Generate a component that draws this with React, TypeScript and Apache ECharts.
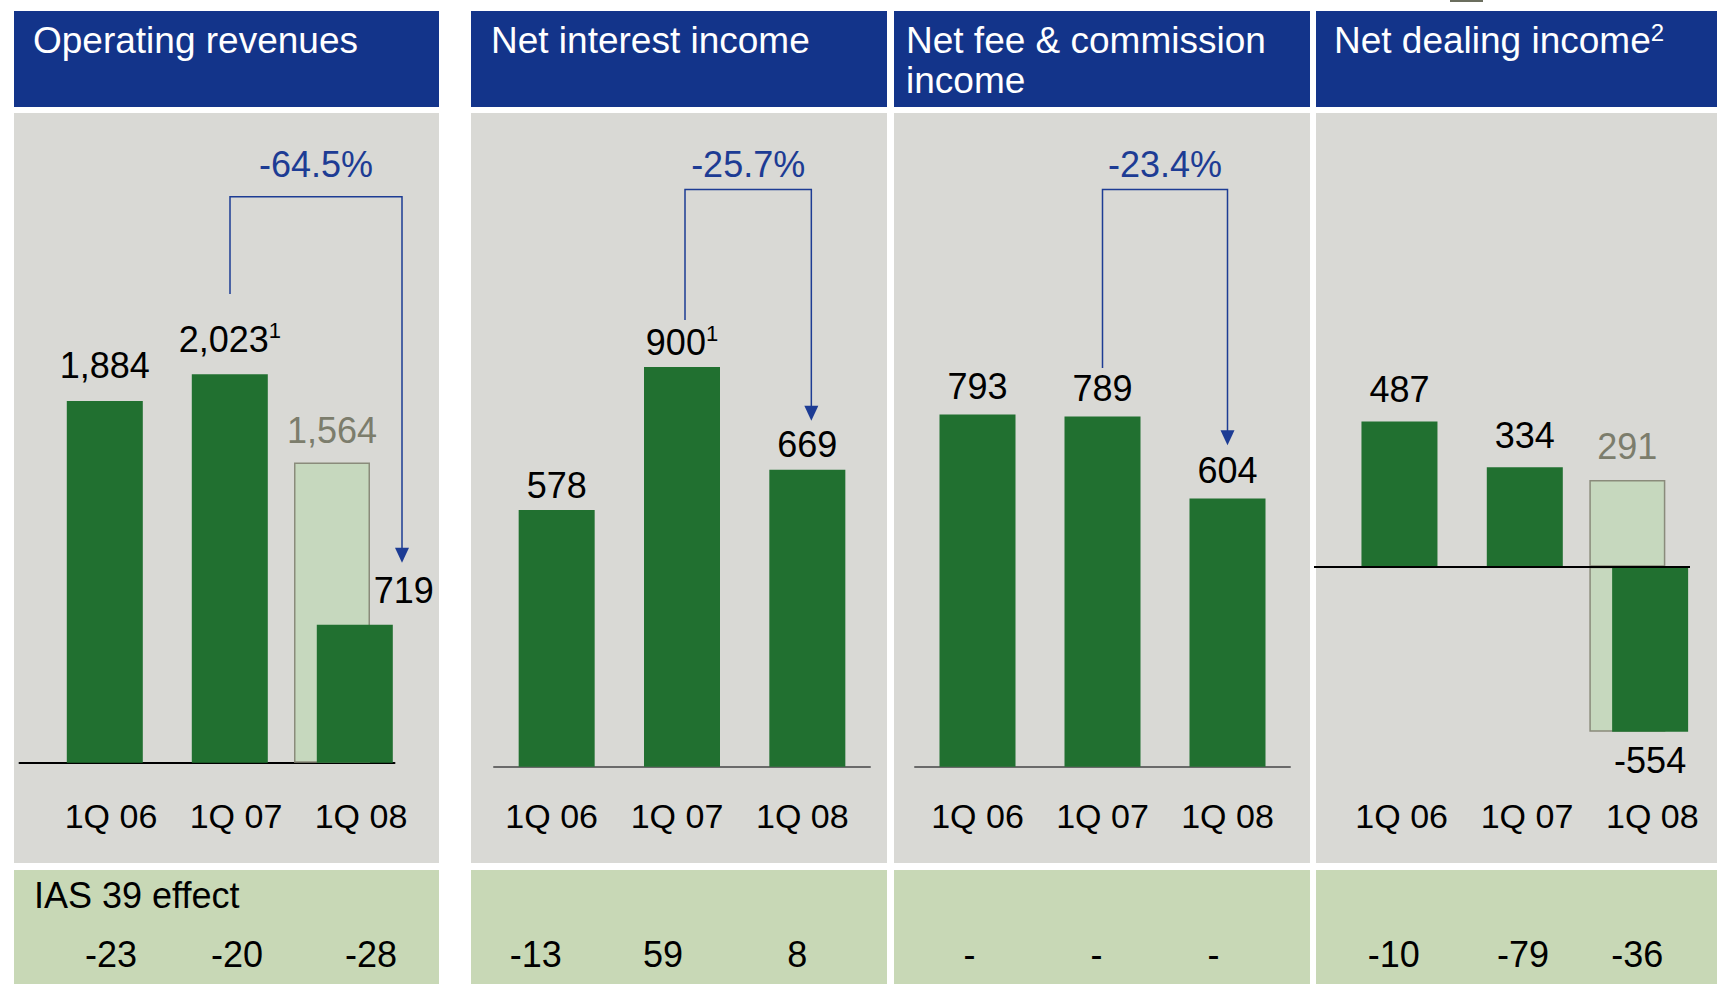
import React, { useEffect, useRef } from 'react';
import * as echarts from 'echarts';

// ---------------- data ----------------
const categories = ['1Q 06', '1Q 07', '1Q 08'];

const panelTitles = ['Operating revenues', 'Net interest income', 'Net fee & commission\nincome', 'Net dealing income'];
const panelTitleSup = ['', '', '', '2'];

const operatingRevenues = [1884, 2023, 719];
const operatingRevenuesGross = [null, null, 1564];
const netInterestIncome = [578, 900, 669];
const netFeeIncome = [793, 789, 604];
const netDealingIncome = [487, 334, -554];
const netDealingGrossPos = [null, null, 291];
const netDealingGrossNeg = [null, null, -554];

const footnotes = [
  ['', '1', ''],
  ['', '1', ''],
  ['', '', ''],
  ['', '', ''],
];

const changeLabels = ['-64.5%', '-25.7%', '-23.4%'];

const ias39Label = 'IAS 39 effect';
const ias39Values = [
  ['-23', '-20', '-28'],
  ['-13', '59', '8'],
  ['-', '-', '-'],
  ['-10', '-79', '-36'],
];

// ---------------- styles ----------------
const FONT = '"Liberation Sans", Arial, Helvetica, sans-serif';
const DARK = '#217030';
const LIGHT = '#C6D8BE';
const LIGHT_BORDER = '#8A8B7B';
const HEADER = '#13348A';
const GRAY_BG = '#D9D9D5';
const GREEN_BG = '#C8D8B6';
const ARROW = '#1D3C94';

const fmt = (v: number) => v.toLocaleString('en-US');

const panelsX = [
  [14, 439],
  [471, 887],
  [894, 1310],
  [1316, 1717],
];

const grids = [
  { left: 19.5, top: 186.7, width: 375, height: 576 },
  { left: 494, top: 189.5, width: 376, height: 577.2 },
  { left: 915, top: 189.5, width: 375, height: 577.2 },
  { left: 1314, top: 209.1, width: 376, height: 581.1 },
];
const yRanges = [
  [0, 3000],
  [0, 1300],
  [0, 1300],
  [-750, 1200],
];

function richLabel(panel: number, distance: number, extra: any = {}) {
  return {
    show: true,
    position: 'top',
    distance,
    formatter: (p: any) => {
      const v = typeof p.value === 'number' ? p.value : Number(p.value);
      const s = footnotes[panel][p.dataIndex];
      return s ? `{v|${fmt(v)}}{s|${s}}` : `{v|${fmt(v)}}`;
    },
    rich: {
      v: { fontSize: 36, fontFamily: FONT, color: '#000', lineHeight: 40 },
      s: { fontSize: 22, fontFamily: FONT, color: '#000', lineHeight: 28, verticalAlign: 'top' },
    },
    ...extra,
  };
}

function grayLabel(distance: number) {
  return {
    show: true,
    position: 'top',
    distance,
    fontSize: 36,
    lineHeight: 40,
    fontFamily: FONT,
    color: '#7c7d6c',
    formatter: (p: any) => fmt(p.value),
  };
}

const barBase = { type: 'bar', barWidth: 76, barGap: '-70%' };
const lightStyle = { color: LIGHT, borderColor: LIGHT_BORDER, borderWidth: 1.5 };

function buildOption() {
  const series: any[] = [
    // panel 1
    { ...barBase, name: 'spacer1', xAxisIndex: 0, yAxisIndex: 0, stack: 's1', data: [null, null, null], silent: true },
    { ...barBase, name: 'gross1', xAxisIndex: 0, yAxisIndex: 0, stack: 'g1', data: operatingRevenuesGross, itemStyle: lightStyle, label: grayLabel(12) },
    {
      ...barBase, name: 'rev', xAxisIndex: 0, yAxisIndex: 0, stack: 'd1',
      data: operatingRevenues.map((v, i) => (i === 2 ? { value: v, label: { offset: [49, 0], distance: 14 } } : v)),
      itemStyle: { color: DARK }, label: richLabel(0, 15),
    },
    // panel 2
    { ...barBase, name: 'nii', xAxisIndex: 1, yAxisIndex: 1, data: netInterestIncome, itemStyle: { color: DARK }, label: richLabel(1, 5) },
    // panel 3
    { ...barBase, name: 'fee', xAxisIndex: 2, yAxisIndex: 2, data: netFeeIncome, itemStyle: { color: DARK }, label: richLabel(2, 8) },
    // panel 4
    { ...barBase, name: 'spacer4', xAxisIndex: 3, yAxisIndex: 3, stack: 's4', data: [null, null, null], silent: true },
    { ...barBase, name: 'gross4p', xAxisIndex: 3, yAxisIndex: 3, stack: 'g4', data: netDealingGrossPos, itemStyle: lightStyle, label: grayLabel(13) },
    { ...barBase, name: 'gross4n', xAxisIndex: 3, yAxisIndex: 3, stack: 'g4', data: netDealingGrossNeg, itemStyle: lightStyle },
    {
      ...barBase, name: 'deal', xAxisIndex: 3, yAxisIndex: 3, stack: 'd4',
      data: netDealingIncome.map((v) => (v < 0 ? { value: v, label: { position: 'bottom', distance: 9 } } : v)),
      itemStyle: { color: DARK }, label: richLabel(3, 12),
      markLine: {
        silent: true,
        symbol: 'none',
        label: { show: false },
        lineStyle: { color: '#000', width: 2, type: 'solid' },
        data: [{ yAxis: 0 }],
      },
    },
  ];

  const axisLineShow = [true, true, true, false];
  const axisLineColors = ['#000', '#6a6a6a', '#6a6a6a', '#000'];
  const labelMargins = [36, 32, 32, 9];
  const labelPads = [[0, 0, 0, 58], [0, 10, 0, 0], [0, 0, 0, 0], [0, 0, 0, 50]];

  return {
    animation: false,
    backgroundColor: '#ffffff',
    textStyle: { fontFamily: FONT },
    grid: grids.map((g) => ({ ...g, containLabel: false, outerBoundsMode: 'none' })),
    xAxis: grids.map((_, i) => ({
      type: 'category',
      gridIndex: i,
      data: categories,
      axisTick: { show: false },
      axisLine: { show: axisLineShow[i], onZero: false, lineStyle: { color: axisLineColors[i], width: 2 } },
      axisLabel: { fontSize: 34, color: '#000', fontFamily: FONT, margin: labelMargins[i], padding: labelPads[i] },
      splitLine: { show: false },
    })),
    yAxis: grids.map((_, i) => ({
      type: 'value',
      gridIndex: i,
      min: yRanges[i][0],
      max: yRanges[i][1],
      show: false,
      splitLine: { show: false },
    })),
    series,
  };
}

// bracket annotations (data-space anchors)
const brackets = [
  { panel: 0, from: 1, to: 2, fromDx: 23, toDx: 70, top: 2948, fromEnd: 2441, toEnd: 1042, text: changeLabels[0] },
  { panel: 1, from: 1, to: 2, fromDx: 3, toDx: 4, top: 1300, fromEnd: 1006, toEnd: 779, text: changeLabels[1] },
  { panel: 2, from: 1, to: 2, fromDx: 0, toDx: 0, top: 1300, fromEnd: 898, toEnd: 724, text: changeLabels[2] },
];
const iasDx = [
  [29, 30, 39],
  [-21, -19, -10],
  [-8, -6, -14],
  [17, 21, 10],
];

function buildGraphics(chart: any) {
  const els: any[] = [];
  els.push({ type: 'rect', shape: { x: 1450, y: 0, width: 33, height: 2 }, style: { fill: '#6b6e5e' }, z: -10 });
  panelsX.forEach(([x0, x1], i) => {
    els.push({ type: 'rect', shape: { x: x0, y: 11, width: x1 - x0, height: 96 }, style: { fill: HEADER }, z: -10 });
    els.push({ type: 'rect', shape: { x: x0, y: 113, width: x1 - x0, height: 750 }, style: { fill: GRAY_BG }, z: -10 });
    els.push({ type: 'rect', shape: { x: x0, y: 870, width: x1 - x0, height: 114 }, style: { fill: GREEN_BG }, z: -10 });
    const tx = [33, 491, 906, 1334][i];
    const sup = panelTitleSup[i];
    const text = sup ? `{t|${panelTitles[i]}}{s|${sup}}` : panelTitles[i].split('\n').map((l) => `{t|${l}}`).join('\n');
    els.push({
      type: 'text',
      x: tx,
      y: 20,
      z: 10,
      style: {
        text,
        fill: '#fff',
        fontSize: 37,
        fontFamily: FONT,
        lineHeight: 40,
        verticalAlign: 'top',
        textVerticalAlign: 'top',
        align: 'left',
        textAlign: 'left',
        rich: {
          t: { fontSize: 37, fontFamily: FONT, lineHeight: 40, fill: '#fff', color: '#fff' },
          s: { fontSize: 24, fontFamily: FONT, lineHeight: 30, fill: '#fff', color: '#fff', verticalAlign: 'top' },
        },
      },
    });
  });

  brackets.forEach((b) => {
    const idx = { xAxisIndex: b.panel, yAxisIndex: b.panel };
    const [fx, ty] = chart.convertToPixel(idx, [categories[b.from], b.top]);
    const [tx0] = chart.convertToPixel(idx, [categories[b.to], b.top]);
    const fey = chart.convertToPixel(idx, [categories[b.from], b.fromEnd])[1];
    const tey = chart.convertToPixel(idx, [categories[b.to], b.toEnd])[1];
    const x1 = fx + b.fromDx;
    const x2 = tx0 + b.toDx;
    els.push({
      type: 'polyline',
      z: 20,
      shape: { points: [[x1, fey], [x1, ty], [x2, ty], [x2, tey - 14]] },
      style: { stroke: ARROW, lineWidth: 1.5, fill: null },
    });
    els.push({
      type: 'polygon',
      z: 20,
      shape: { points: [[x2 - 7, tey - 15], [x2 + 7, tey - 15], [x2, tey]] },
      style: { fill: ARROW },
    });
    els.push({
      type: 'text',
      z: 20,
      x: (x1 + x2) / 2,
      y: 164,
      style: {
        text: b.text,
        fill: ARROW,
        fontSize: 36,
        fontFamily: FONT,
        align: 'center',
        textAlign: 'center',
        verticalAlign: 'middle',
        textVerticalAlign: 'middle',
      },
    });
  });

  els.push({
    type: 'text',
    z: 20,
    x: 34,
    y: 895,
    style: { text: ias39Label, fill: '#000', fontSize: 36, fontFamily: FONT, align: 'left', textAlign: 'left', verticalAlign: 'middle', textVerticalAlign: 'middle' },
  });
  ias39Values.forEach((row, p) => {
    row.forEach((t, i) => {
      const [x] = chart.convertToPixel({ xAxisIndex: p, yAxisIndex: p }, [categories[i], 0]);
      els.push({
        type: 'text',
        z: 20,
        x: x + iasDx[p][i],
        y: 954,
        style: { text: t, fill: '#000', fontSize: 36, fontFamily: FONT, align: 'center', textAlign: 'center', verticalAlign: 'middle', textVerticalAlign: 'middle' },
      });
    });
  });
  return els;
}

export default function App() {
  const ref = useRef<HTMLDivElement>(null);
  useEffect(() => {
    if (!ref.current) return;
    const chart = echarts.init(ref.current, null, { renderer: 'svg' });
    chart.setOption(buildOption() as any);
    chart.setOption({ graphic: { elements: buildGraphics(chart) } } as any);
    return () => chart.dispose();
  }, []);
  return (
    <div
      ref={ref}
      style={{ position: 'absolute', left: 0, top: 0, width: 1717, height: 984, background: '#fff' }}
    />
  );
}
